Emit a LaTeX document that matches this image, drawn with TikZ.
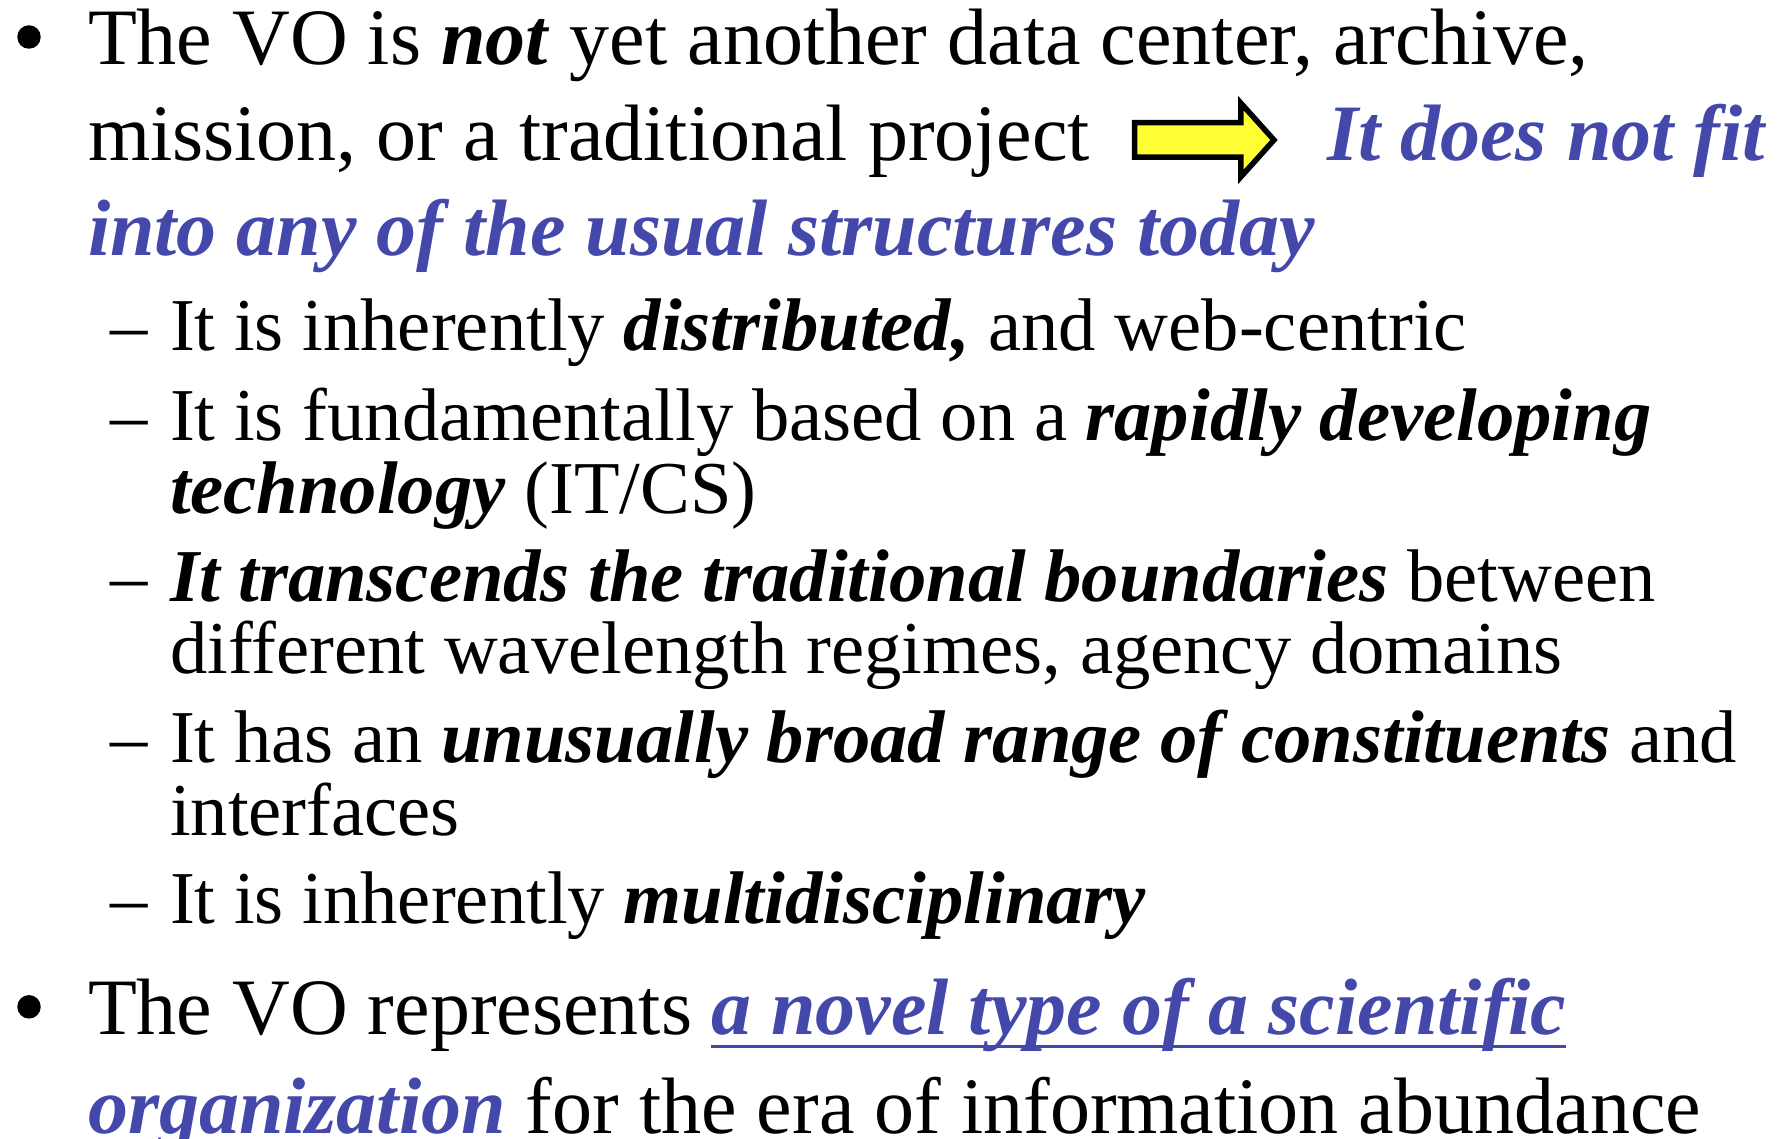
\documentclass[tikz,border=0pt]{standalone}
\usepackage{fontspec}
\setmainfont{Liberation Serif}
\definecolor{voblue}{RGB}{68,72,170}
\definecolor{arrowyellow}{RGB}{255,255,51}
\newcommand{\bi}[1]{\textbf{\textit{#1}}}
\begin{document}
\begin{tikzpicture}[x=0.5pt,y=-0.5pt,
  txt/.style={anchor=base west,inner sep=0pt,outer sep=0pt},
  main/.style={txt,font=\fontsize{40}{40}\selectfont},
  sub/.style={txt,font=\fontsize{37.3}{37.3}\selectfont},
  emph/.style={text=voblue,font=\fontsize{40}{40}\selectfont\bfseries\itshape},
  bulletdot/.style={circle,fill=black,inner sep=0pt,minimum size=11.75pt},
  uline/.style={draw=voblue,line width=1.6pt}]
\useasboundingbox[fill=white] (0,0) rectangle (1788,1139);
% first bullet
\node[bulletdot] (b1) at (29,37) {};
\node[main] (l1) at (88,64.7) {The VO is \bi{not} yet another data center, archive,};
\node[main] (l2) at (88,160.9) {mission, or a traditional project};
\draw[fill=arrowyellow,draw=black,line width=2.75pt,line join=miter]
  (1134.5,122.75) -- (1240.75,122.75) -- (1240.75,103) -- (1274,140) -- (1240.75,177) -- (1240.75,157.25) -- (1134.5,157.25) -- cycle;
\node[main,emph,txt] (l2b) at (1327,160.9) {It does not fit};
\node[main,emph,txt] (l3) at (88,255.2) {into any of the usual structures today};
% sub items
\node[sub] (d1) at (110,350.6) {–};
\node[sub] (s1) at (170,350.6) {It is inherently \bi{distributed,} and web-centric};
\node[sub] (d2) at (110,440.1) {–};
\node[sub] (s2) at (170,440.1) {It is fundamentally based on a \bi{rapidly developing}};
\node[sub] (s2b) at (170,513.3) {\bi{technology} (IT/CS)};
\node[sub] (d3) at (110,601.7) {–};
\node[sub] (s3) at (170,601.7) {\bi{It transcends the traditional boundaries} between};
\node[sub] (s3b) at (170,673.5) {different wavelength regimes, agency domains};
\node[sub] (d4) at (110,762.4) {–};
\node[sub] (s4) at (170,762.4) {It has an \bi{unusually broad range of constituents} and};
\node[sub] (s4b) at (170,835.1) {interfaces};
\node[sub] (d5) at (110,923.7) {–};
\node[sub] (s5) at (170,923.7) {It is inherently \bi{multidisciplinary}};
% second bullet
\node[bulletdot] (b2) at (29,1006.8) {};
\node[main] (m1) at (88,1034.5) {The VO represents};
\node[main,emph,txt] (m1b) at (711,1034.5) {a novel type of a scientific};
\draw[uline] ([yshift=-6pt]m1b.base west) -- ([yshift=-6pt]m1b.base east);
\node[main,emph,txt] (m2) at (88,1133) {organization};
\draw[uline] ([yshift=-6pt]m2.base west) -- ([yshift=-6pt]m2.base east);
\node[main] (m2b) at (m2.base east) {\strut\ for the era of information abundance};
\end{tikzpicture}
\end{document}
